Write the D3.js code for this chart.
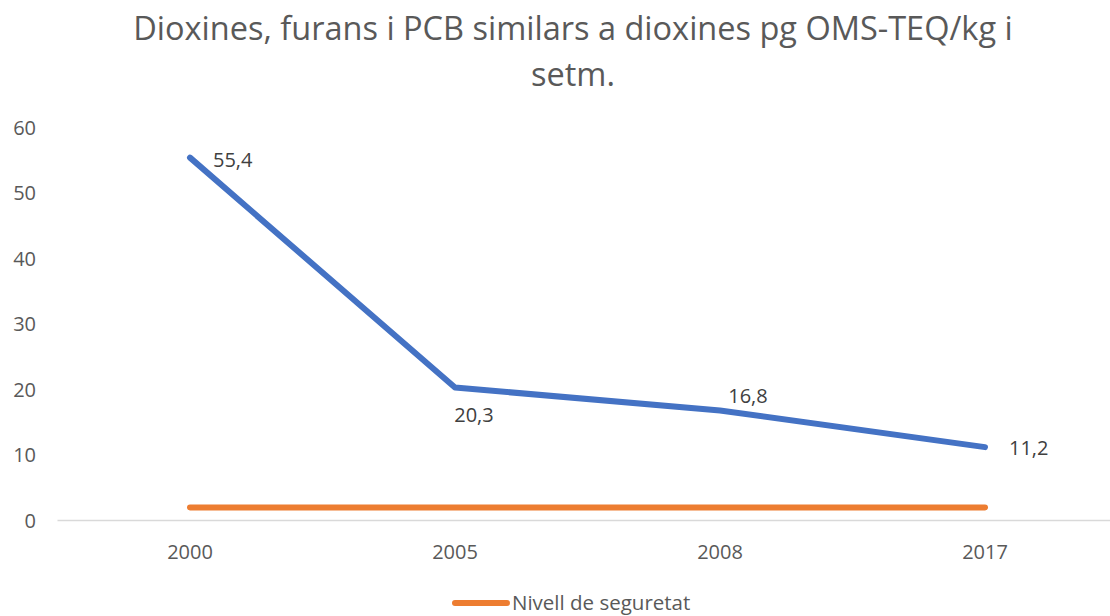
<!DOCTYPE html>
<html>
<head>
<meta charset="utf-8">
<script src="https://cdn.jsdelivr.net/npm/d3@7"></script>
<style>
  body { margin: 0; background: #fff; }
  svg { display: block; font-family: "Open Sans", "Noto Sans", sans-serif; }
</style>
</head>
<body>
<div id="chart"></div>
<script>
// Data
const years = ["2000", "2005", "2008", "2017"];
const dioxinValues = [55.4, 20.3, 16.8, 11.2];
const safetyLevel = [2, 2, 2, 2];
const yTicks = [0, 10, 20, 30, 40, 50, 60];
const titleLines = ["Dioxines, furans i PCB similars a dioxines pg OMS-TEQ/kg i", "setm."];
const legendLabel = "Nivell de seguretat";

const width = 1110, height = 616;
const margin = { top: 127.5, right: -7.5, bottom: 95.5, left: 57.5 };

const svg = d3.select("#chart").append("svg")
  .attr("width", width)
  .attr("height", height);

const x = d3.scaleBand()
  .domain(years)
  .range([margin.left, width - margin.right]);

const y = d3.scaleLinear()
  .domain([0, 60])
  .range([height - margin.bottom, margin.top]);

// ── Title ──────────────────────────────────────────────────────────────────
svg.append("text")
  .attr("text-anchor", "middle")
  .style("font-size", "32.5px")
  .style("fill", "#595959")
  .selectAll("tspan")
  .data(titleLines)
  .join("tspan")
  .attr("x", 573)
  .attr("y", (d, i) => 40 + i * 46)
  .text(d => d);

// ── Y axis labels (no gridlines) ───────────────────────────────────────────
svg.append("g")
  .selectAll("text")
  .data(yTicks)
  .join("text")
  .attr("x", 36)
  .attr("y", d => y(d))
  .attr("dy", "0.35em")
  .attr("text-anchor", "end")
  .style("font-size", "20px")
  .style("fill", "#595959")
  .text(d => d);

// ── X axis ─────────────────────────────────────────────────────────────────
svg.append("line")
  .attr("x1", margin.left)
  .attr("x2", width)
  .attr("y1", y(0))
  .attr("y2", y(0))
  .attr("stroke", "#d9d9d9")
  .attr("stroke-width", 1.5);

svg.append("g")
  .selectAll("text")
  .data(years)
  .join("text")
  .attr("x", d => x(d) + x.bandwidth() / 2)
  .attr("y", 559)
  .attr("text-anchor", "middle")
  .style("font-size", "20px")
  .style("fill", "#595959")
  .text(d => d);

// ── Lines ──────────────────────────────────────────────────────────────────
const line = d3.line()
  .x((d, i) => x(years[i]) + x.bandwidth() / 2)
  .y(d => y(d));

svg.append("path")
  .datum(safetyLevel)
  .attr("d", line)
  .attr("fill", "none")
  .attr("stroke", "#ed7d31")
  .attr("stroke-width", 6)
  .attr("stroke-linecap", "round");

svg.append("path")
  .datum(dioxinValues)
  .attr("d", line)
  .attr("fill", "none")
  .attr("stroke", "#4472c4")
  .attr("stroke-width", 6)
  .attr("stroke-linecap", "round")
  .attr("stroke-linejoin", "round");

// ── Data labels ────────────────────────────────────────────────────────────
const labelOffsets = [
  { dx: 23, dy: 9, anchor: "start" },
  { dx: 19, dy: 34, anchor: "middle" },
  { dx: 28, dy: -7, anchor: "middle" },
  { dx: 24, dy: 8, anchor: "start" }
];

svg.append("g")
  .selectAll("text")
  .data(dioxinValues)
  .join("text")
  .attr("x", (d, i) => x(years[i]) + x.bandwidth() / 2 + labelOffsets[i].dx)
  .attr("y", (d, i) => y(d) + labelOffsets[i].dy)
  .attr("text-anchor", (d, i) => labelOffsets[i].anchor)
  .style("font-size", "20px")
  .style("fill", "#404040")
  .text(d => d3.format(".1f")(d).replace(".", ","));

// ── Legend ─────────────────────────────────────────────────────────────────
const legend = svg.append("g").attr("transform", "translate(455, 603)");

legend.append("line")
  .attr("x1", 0)
  .attr("x2", 52)
  .attr("stroke", "#ed7d31")
  .attr("stroke-width", 6)
  .attr("stroke-linecap", "round");

legend.append("text")
  .attr("x", 57)
  .attr("dy", "0.35em")
  .style("font-size", "20.5px")
  .style("fill", "#595959")
  .text(legendLabel);
</script>
</body>
</html>
